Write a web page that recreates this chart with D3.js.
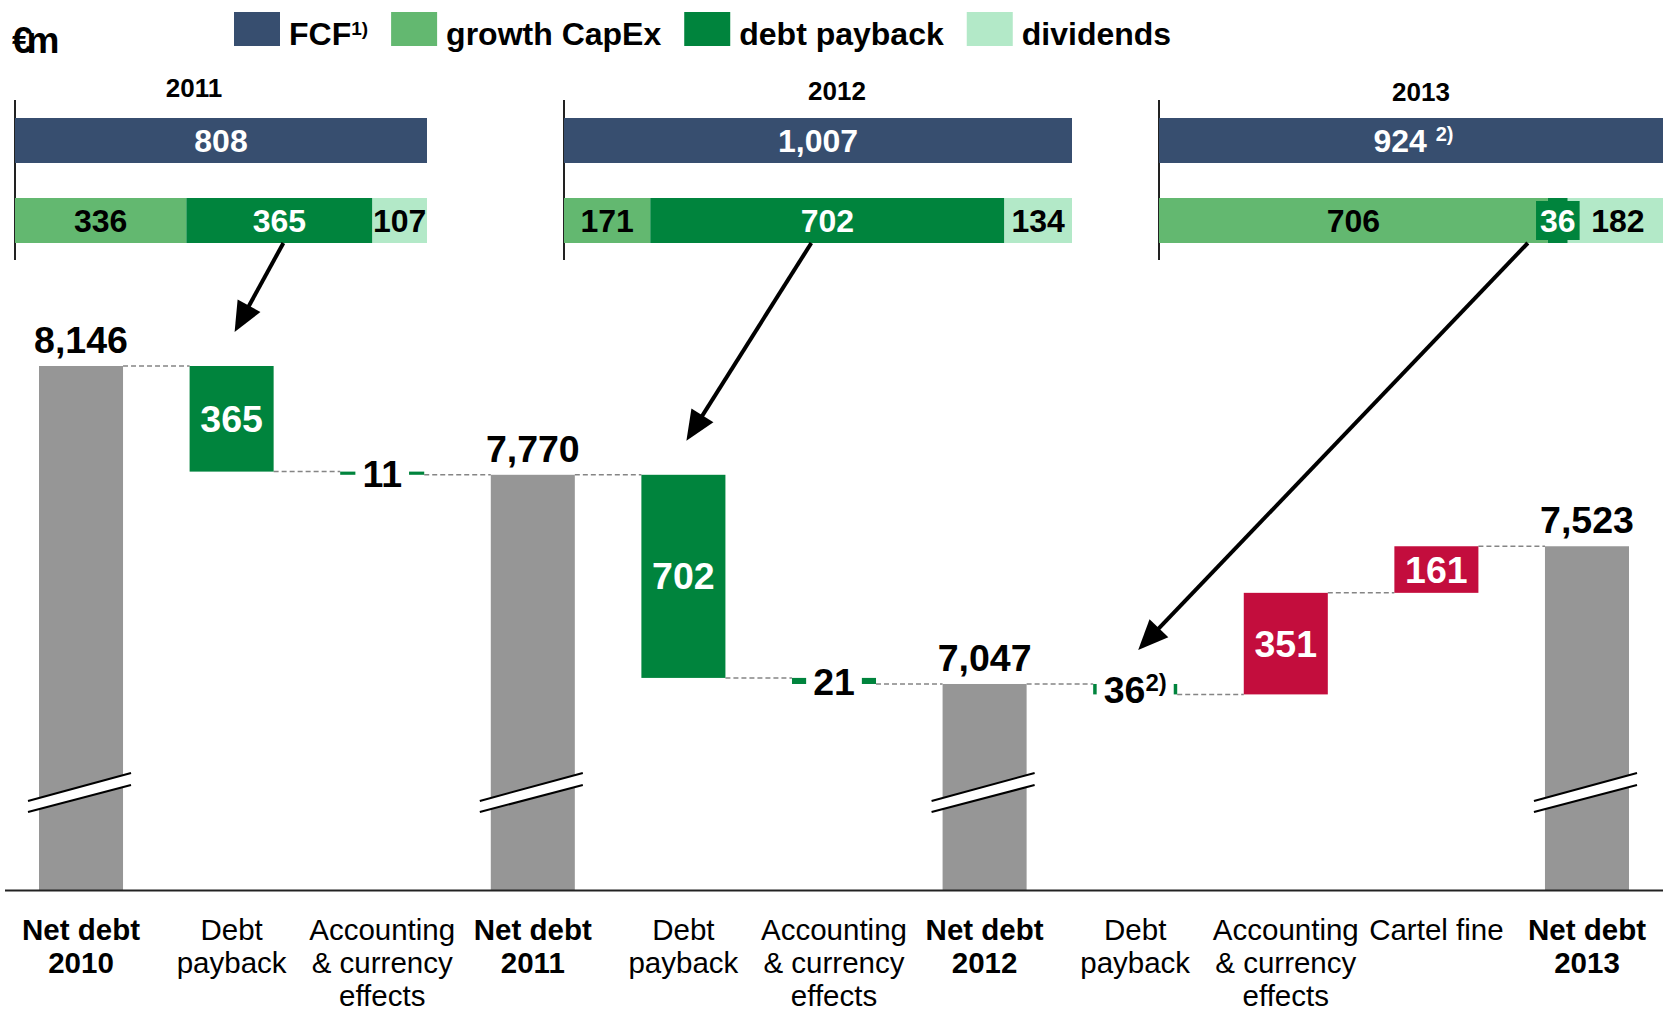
<!DOCTYPE html>
<html>
<head>
<meta charset="utf-8">
<script src="https://cdn.jsdelivr.net/npm/d3@7"></script>
<style>
    body { margin: 0; background: #fff; }
    text { font-family: "Liberation Sans", Arial, sans-serif; }
</style>
</head>
<body>
<script>
    // ---- data ----
    var years = ["2011", "2012", "2013"];
    var fcf = [808, 1007, 924];
    var growthCapex = [336, 171, 706];
    var debtPayback = [365, 702, 36];
    var dividends = [107, 134, 182];
    var fcfNotes = ["", "", "2)"];

    var stepLabels = [
        ["Net debt", "2010"], ["Debt", "payback"], ["Accounting", "& currency", "effects"],
        ["Net debt", "2011"], ["Debt", "payback"], ["Accounting", "& currency", "effects"],
        ["Net debt", "2012"], ["Debt", "payback"], ["Accounting", "& currency", "effects"],
        ["Cartel fine"], ["Net debt", "2013"]
    ];
    var stepValues = [8146, -365, -11, 7770, -702, -21, 7047, -36, 351, 161, 7523];
    var stepIsTotal = [true, false, false, true, false, false, true, false, false, false, true];
    var stepNotes = ["", "", "", "", "", "", "", "2)", "", "", ""];
    var paybackSteps = [1, 4, 7];

    var legendNames = ["FCF", "growth CapEx", "debt payback", "dividends"];
    var legendNotes = ["1)", "", "", ""];

    // ---- layout ----
    var W = 1663, H = 1013;
    var colors = {
        fcf: "#374e6f", capex: "#63b870", pay: "#00843d", div: "#b3e9c8",
        total: "#969696", up: "#c30d3d"
    };
    var legendColors = [colors.fcf, colors.capex, colors.pay, colors.div];
    var fmt = d3.format(",");

    var svg = d3.select("body").append("svg")
        .attr("width", W)
        .attr("height", H);

    // unit + legend
    svg.append("text")
        .attr("x", 12).attr("y", 53)
        .style("font-size", "37px").style("font-weight", "bold")
        .style("letter-spacing", "-6px")
        .text("€m");

    var lx = 234;
    legendNames.forEach(function(name, i) {
        svg.append("rect")
            .attr("x", lx).attr("y", 12)
            .attr("width", 46).attr("height", 34)
            .attr("fill", legendColors[i]);
        var t = svg.append("text")
            .attr("x", lx + 55).attr("y", 45)
            .style("font-size", "32px").style("font-weight", "bold");
        t.append("tspan").text(name);
        if (legendNotes[i]) {
            t.append("tspan").attr("dy", -10).style("font-size", "19px").text(legendNotes[i]);
        }
        lx += 55 + t.node().getComputedTextLength() + 23;
    });

    // ---- top panels: FCF use per year ----
    var panelX = [[15, 427], [564, 1072], [1159, 1668]];
    var panelTitleX = [194, 837, 1421];
    var panelTitleY = [97, 100, 101];
    var arrowStart = [];

    years.forEach(function(yr, p) {
        var xs = d3.scaleLinear().domain([0, fcf[p]]).range(panelX[p]);
        var g = svg.append("g");

        g.append("line")
            .attr("x1", xs(0)).attr("x2", xs(0))
            .attr("y1", 100).attr("y2", 260)
            .attr("stroke", "#222").attr("stroke-width", 2);

        g.append("text")
            .attr("x", panelTitleX[p]).attr("y", panelTitleY[p])
            .attr("text-anchor", "middle")
            .style("font-size", "26px").style("font-weight", "bold")
            .text(yr);

        g.append("rect")
            .attr("x", xs(0)).attr("y", 118)
            .attr("width", xs(fcf[p]) - xs(0)).attr("height", 45)
            .attr("fill", colors.fcf);

        var ft = g.append("text")
            .attr("x", (xs(0) + xs(fcf[p])) / 2).attr("y", 152)
            .attr("text-anchor", "middle").attr("fill", "#fff")
            .style("font-size", "32px").style("font-weight", "bold");
        ft.append("tspan").text(fmt(fcf[p]));
        if (fcfNotes[p]) {
            ft.append("tspan").text(" ");
            ft.append("tspan").attr("dy", -11).style("font-size", "20px").text(fcfNotes[p]);
        }

        var segs = [
            { v: growthCapex[p], c: colors.capex, tc: "#000" },
            { v: debtPayback[p], c: colors.pay, tc: "#fff" },
            { v: dividends[p], c: colors.div, tc: "#000" }
        ];
        var acc = 0;
        segs.forEach(function(s) { s.a = acc; acc += s.v; s.b = acc; });

        g.selectAll("rect.seg").data(segs).enter().append("rect")
            .attr("class", "seg")
            .attr("x", function(d) { return xs(d.a); })
            .attr("y", 198)
            .attr("width", function(d) { return xs(d.b) - xs(d.a); })
            .attr("height", 45)
            .attr("fill", function(d) { return d.c; });

        segs.forEach(function(s, k) {
            var cx = (xs(s.a) + xs(s.b)) / 2;
            var t = g.append("text")
                .attr("x", cx).attr("y", 232)
                .attr("text-anchor", "middle").attr("fill", s.tc)
                .style("font-size", "32px").style("font-weight", "bold")
                .text(s.v);
            var tw = t.node().getComputedTextLength();
            if (xs(s.b) - xs(s.a) < tw && k == 1) {
                // too narrow: put the number on its own box
                g.insert("rect", function() { return t.node(); })
                    .attr("x", cx - tw / 2 - 4).attr("y", 201)
                    .attr("width", tw + 8).attr("height", 39)
                    .attr("fill", s.c);
            }
        });

        // where the arrow leaves the debt payback segment
        var mid = (xs(segs[1].a) + xs(segs[1].b)) / 2;
        arrowStart.push([mid + [4, -16, -30][p], 243]);
    });

    // ---- waterfall ----
    var x = d3.scaleBand()
        .domain(d3.range(stepValues.length))
        .range([39, 1629])
        .paddingInner(0.442)
        .paddingOuter(0);
    var y = d3.scaleLinear().domain([6335, 8146]).range([890, 366]);
    var floorY = y.range()[0];
    var bw = x.bandwidth();

    var steps = [];
    var level = 0;
    stepValues.forEach(function(v, i) {
        if (stepIsTotal[i]) {
            steps.push({ i: i, lo: y.domain()[0], hi: v, end: v, total: true });
            level = v;
        } else {
            var next = level + v;
            steps.push({ i: i, lo: Math.min(level, next), hi: Math.max(level, next), end: next, v: v });
            level = next;
        }
    });

    // dashed connectors
    var conn = svg.append("g");
    for (var i = 0; i < steps.length - 1; i++) {
        conn.append("line")
            .attr("x1", x(i) + bw).attr("x2", x(i + 1))
            .attr("y1", y(steps[i].end)).attr("y2", y(steps[i].end))
            .attr("stroke", "#858585").attr("stroke-width", 1.5)
            .attr("stroke-dasharray", "5 3");
    }

    svg.append("g").selectAll("rect").data(steps).enter().append("rect")
        .attr("x", function(d) { return x(d.i); })
        .attr("width", bw)
        .attr("y", function(d) { return y(d.hi); })
        .attr("height", function(d) { return d.total ? floorY - y(d.hi) : Math.max(y(d.lo) - y(d.hi), 1); })
        .attr("fill", function(d) {
            if (d.total) return colors.total;
            return d.v < 0 ? colors.pay : colors.up;
        });

    // axis break marks on the total bars
    steps.filter(function(d) { return d.total; }).forEach(function(d) {
        var x0 = x(d.i) - 11, x1 = x(d.i) + bw + 8;
        var g = svg.append("g");
        g.append("path")
            .attr("d", "M" + x0 + ",801L" + x1 + ",773L" + x1 + ",785L" + x0 + ",812Z")
            .attr("fill", "#fff");
        g.append("line").attr("x1", x0).attr("y1", 801).attr("x2", x1).attr("y2", 773)
            .attr("stroke", "#000").attr("stroke-width", 2);
        g.append("line").attr("x1", x0).attr("y1", 812).attr("x2", x1).attr("y2", 785)
            .attr("stroke", "#000").attr("stroke-width", 2);
    });

    // baseline
    svg.append("line")
        .attr("x1", 5).attr("x2", W)
        .attr("y1", floorY + 0.5).attr("y2", floorY + 0.5)
        .attr("stroke", "#222").attr("stroke-width", 2);

    // value labels
    var labels = svg.append("g");
    steps.forEach(function(d) {
        var cx = x(d.i) + bw / 2;
        var t = labels.append("text")
            .attr("x", cx)
            .attr("text-anchor", "middle")
            .style("font-size", "37.5px").style("font-weight", "bold");
        t.append("tspan").text(fmt(d.total ? d.hi : Math.abs(d.v)));
        if (stepNotes[d.i]) {
            t.append("tspan").attr("dy", -12).style("font-size", "24px").text(stepNotes[d.i]);
        }
        if (d.total) {
            t.attr("y", y(d.hi) - 13).attr("fill", "#000");
            return;
        }
        var top = y(d.hi), bot = y(d.lo);
        if (bot - top > 45) {
            t.attr("y", (top + bot) / 2 + 13).attr("fill", "#fff");
        } else {
            t.attr("y", (top + bot) / 2 + 14).attr("fill", "#000");
            var bb = t.node().getBBox();
            labels.insert("rect", function() { return t.node(); })
                .attr("x", bb.x - 7).attr("y", bb.y)
                .attr("width", bb.width + 14).attr("height", bb.height)
                .attr("fill", "#fff");
        }
    });

    // arrows from the FCF panels to the debt payback steps
    paybackSteps.forEach(function(si, p) {
        var s = arrowStart[p];
        var tip = [x(si) + bw / 2 + 3, y(steps[si].hi) - 34];
        var dx = tip[0] - s[0], dy = tip[1] - s[1];
        var len = Math.sqrt(dx * dx + dy * dy);
        var ux = dx / len, uy = dy / len;
        var L = 30, w = 13;
        var bx = tip[0] - ux * L, by = tip[1] - uy * L;
        svg.append("line")
            .attr("x1", s[0]).attr("y1", s[1])
            .attr("x2", bx + ux * 4).attr("y2", by + uy * 4)
            .attr("stroke", "#000").attr("stroke-width", 4);
        svg.append("path")
            .attr("d", "M" + tip[0] + "," + tip[1] +
                "L" + (bx - uy * w) + "," + (by + ux * w) +
                "L" + (bx + uy * w) + "," + (by - ux * w) + "Z")
            .attr("fill", "#000");
    });

    // category labels
    var cat = svg.append("g");
    stepLabels.forEach(function(lines, i) {
        var t = cat.append("text")
            .attr("x", x(i) + bw / 2)
            .attr("y", 940)
            .attr("text-anchor", "middle")
            .style("font-size", "29.5px")
            .style("font-weight", stepIsTotal[i] ? "bold" : "normal");
        lines.forEach(function(l, k) {
            t.append("tspan")
                .attr("x", x(i) + bw / 2)
                .attr("dy", k ? 33 : 0)
                .text(l);
        });
    });
</script>
</body>
</html>
